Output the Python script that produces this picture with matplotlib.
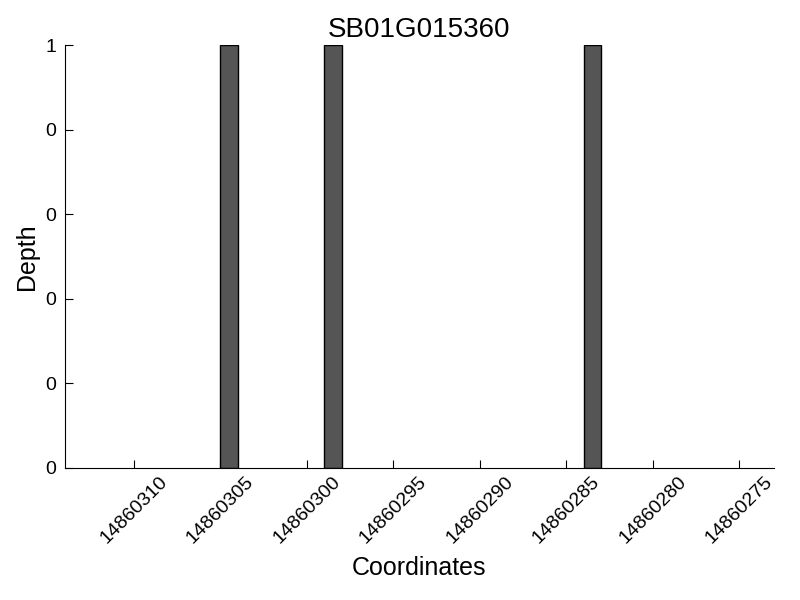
import matplotlib
matplotlib.use("Agg")
import matplotlib.pyplot as plt
from matplotlib.ticker import FuncFormatter

plt.rcParams['font.family'] = ['Liberation Sans', 'DejaVu Sans']

title = "SB01G015360"
coords = [14860304, 14860298, 14860283]
depths = [1, 1, 1]
xticks = [14860310, 14860305, 14860300, 14860295, 14860290, 14860285, 14860280, 14860275]
yticks = [0, 0.2, 0.4, 0.6, 0.8, 1.0]

fig = plt.figure(figsize=(8, 6), dpi=100)
ax = fig.add_axes([0.081, 0.22, 0.8865, 0.705])
ax.bar(coords, depths, width=1, align='edge', color='#555555', edgecolor='black', linewidth=1)
ax.set_xlim(14860314, 14860273)
ax.set_ylim(0, 1)
ax.set_xticks(xticks)
ax.set_xticklabels([str(t) for t in xticks], rotation=45, fontsize=14)
ax.set_yticks(yticks)
ax.yaxis.set_major_formatter(FuncFormatter(lambda v, p: "%d" % int(v)))
ax.tick_params(axis='y', labelsize=14, pad=6)
ax.tick_params(direction='in', length=6, top=False, right=False)
ax.spines['top'].set_visible(False)
ax.spines['right'].set_visible(False)
ax.set_title(title, fontsize=20, pad=6)
ax.set_xlabel("Coordinates", fontsize=18, labelpad=7)
ax.set_ylabel("Depth", fontsize=18, labelpad=5)
fig.savefig("out.png", dpi=100)
